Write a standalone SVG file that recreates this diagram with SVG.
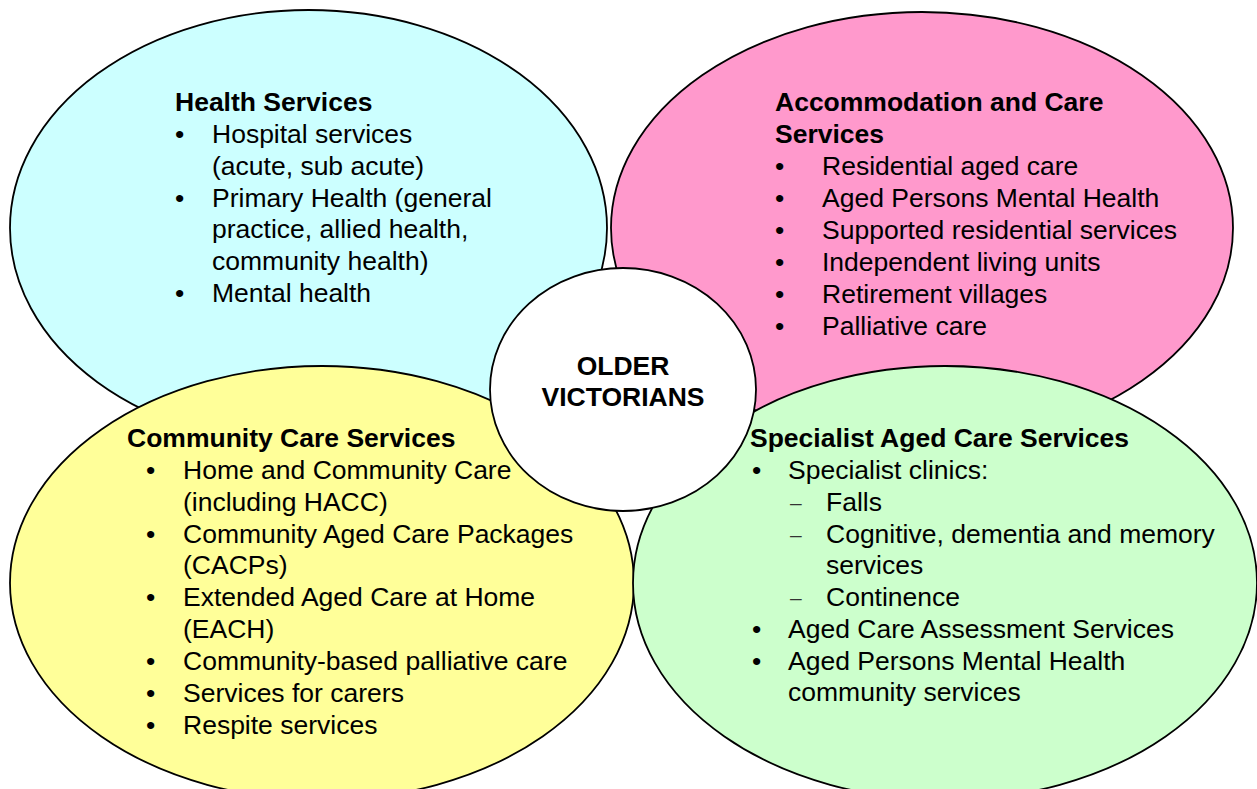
<svg xmlns="http://www.w3.org/2000/svg" width="1257" height="789" viewBox="0 0 1257 789">
<style>
.sh{stroke:#000;stroke-width:1.8}
text{font-family:"Liberation Sans",Arial,Helvetica,sans-serif;font-size:26.5px;fill:#000}
.b{font-weight:bold}
.c{text-anchor:middle}
.d{fill:#333;font-size:21px}
</style>
<rect width="1257" height="789" fill="#fff"/>
<g id="connectors"/>
<g id="health">
<ellipse class="sh" cx="308.5" cy="228" rx="298.5" ry="218" fill="#CCFFFF"/>
<text class="b" x="175" y="111">Health Services</text>
<text x="175" y="143">•</text><text x="212" y="143">Hospital services</text>
<text x="212" y="175">(acute, sub acute)</text>
<text x="175" y="207">•</text><text x="212" y="207">Primary Health (general</text>
<text x="212" y="238">practice, allied health,</text>
<text x="212" y="270">community health)</text>
<text x="175" y="302">•</text><text x="212" y="302">Mental health</text>
</g>
<g id="accommodation">
<ellipse class="sh" cx="922" cy="228" rx="311" ry="216" fill="#FF99CC"/>
<text class="b" x="775" y="111">Accommodation and Care</text>
<text class="b" x="775" y="143">Services</text>
<text x="775" y="175">•</text><text x="822" y="175">Residential aged care</text>
<text x="775" y="207">•</text><text x="822" y="207">Aged Persons Mental Health</text>
<text x="775" y="239">•</text><text x="822" y="239">Supported residential services</text>
<text x="775" y="271">•</text><text x="822" y="271">Independent living units</text>
<text x="775" y="303">•</text><text x="822" y="303">Retirement villages</text>
<text x="775" y="335">•</text><text x="822" y="335">Palliative care</text>
</g>
<g id="community">
<ellipse class="sh" cx="322" cy="583" rx="312" ry="217" fill="#FFFF99"/>
<text class="b" x="127" y="447">Community Care Services</text>
<text x="146" y="479">•</text><text x="183" y="479">Home and Community Care</text>
<text x="183" y="511">(including HACC)</text>
<text x="146" y="543">•</text><text x="183" y="543">Community Aged Care Packages</text>
<text x="183" y="574">(CACPs)</text>
<text x="146" y="606">•</text><text x="183" y="606">Extended Aged Care at Home</text>
<text x="183" y="638">(EACH)</text>
<text x="146" y="670">•</text><text x="183" y="670">Community-based palliative care</text>
<text x="146" y="702">•</text><text x="183" y="702">Services for carers</text>
<text x="146" y="734">•</text><text x="183" y="734">Respite services</text>
</g>
<g id="specialist">
<ellipse class="sh" cx="945" cy="583" rx="312" ry="217" fill="#CCFFCC"/>
<text class="b" x="750" y="447">Specialist Aged Care Services</text>
<text x="752" y="479">•</text><text x="788" y="479">Specialist clinics:</text>
<text class="d" x="790" y="510">–</text><text x="826" y="511">Falls</text>
<text class="d" x="790" y="542">–</text><text x="826" y="543">Cognitive, dementia and memory</text>
<text x="826" y="574">services</text>
<text class="d" x="790" y="605">–</text><text x="826" y="606">Continence</text>
<text x="752" y="638">•</text><text x="788" y="638">Aged Care Assessment Services</text>
<text x="752" y="670">•</text><text x="788" y="670">Aged Persons Mental Health</text>
<text x="788" y="701">community services</text>
</g>
<g id="older-victorians">
<ellipse class="sh" cx="623" cy="389.5" rx="133" ry="121.5" fill="#FFFFFF"/>
<text class="b c" x="623" y="375">OLDER</text>
<text class="b c" x="623" y="406">VICTORIANS</text>
</g>
</svg>
